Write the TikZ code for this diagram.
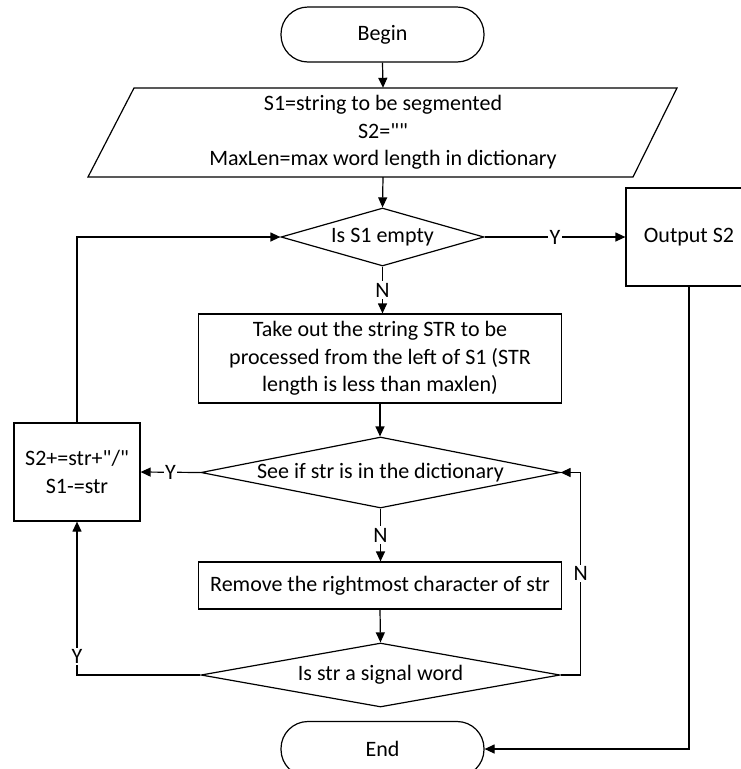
\documentclass[tikz,border=0pt]{standalone}
\usepackage{fontspec}
\setmainfont{Carlito}[Ligatures=TeXOff]
\usetikzlibrary{shapes.geometric,arrows.meta,calc}

\begin{document}
\begin{tikzpicture}[x=1pt,y=-1pt,
  every node/.style={font=\fontsize{22}{27.5}\selectfont},
  line/.style={line width=1.2pt},
  arr/.style={line, -{Triangle[length=10pt,width=9pt]}},
  term/.style={draw, line width=1.2pt, rounded corners=27pt, minimum width=203pt, minimum height=55pt, inner sep=0pt},
  procbox/.style={draw, line width=1.2pt, align=center, inner sep=0pt},
  decision/.style={draw, line width=1.2pt, diamond, inner sep=0pt},
  lbl/.style={fill=white, inner sep=1.5pt}
]
\useasboundingbox (0,0) rectangle (741,769);
\clip (0,0) rectangle (741,769);
\fill[white] (0,0) rectangle (741,769);

% terminators
\node[term] (begin) at (382.5,34.5) {Begin};
\node[term] (end) at (382.5,749) {End};

% input parallelogram
\node[align=center, minimum height=89pt, minimum width=100pt, inner sep=0pt] (init) at (383,132.5)
  {S1=string to be segmented\\S2=""\\MaxLen=max word length in dictionary};
\draw[line, line join=miter] (134,88) -- (677,88) -- (633,177) -- (88,177) -- cycle;

% decisions
\node[decision, aspect=3.5, minimum width=203pt, minimum height=58pt] (empty) at (382.5,237) {Is S1 empty};
\node[decision, aspect=5.06, minimum width=359pt, minimum height=71pt] (indict) at (380.5,472.5) {See if str is in the dictionary};
\node[decision, aspect=5.6, minimum width=359pt, minimum height=64pt] (signal) at (380.5,675) {Is str a signal word};

% processes
\node[procbox, minimum width=126pt, minimum height=98pt] (output) at (689,237) {Output S2};
\node[procbox, minimum width=362.5pt, minimum height=89pt] (take) at (380,358.5)
  {Take out the string STR to be\\processed from the left of S1 (STR\\length is less than maxlen)};
\node[procbox, minimum width=126pt, minimum height=98pt] (append) at (77,472)
  {S2+=str+"/"\\S1-=str};
\node[procbox, minimum width=362.5pt, minimum height=47pt] (remove) at (380,585.5)
  {Remove the rightmost character of str};

% connectors
\draw[arr] (begin.south) -- (init.north);
\draw[arr] (init.south) -- (empty.north);
\draw[arr] (empty.east) -- node[lbl] {Y} (output.west);
\draw[arr] (empty.south) -- node[lbl] {N} (empty.south |- take.north);
\draw[arr] (take.south) -- (take.south |- indict.north);
\draw[arr] (indict.west) -- node[lbl] {Y} (append.east);
\draw[arr] (indict.south) -- node[lbl] {N} (indict.south |- remove.north);
\draw[arr] (remove.south) -- (signal.north);
\draw[arr] (signal.east) -- ++(20,0) |- node[lbl, pos=0.25] {N} (indict.east);
\draw[arr] (signal.west) -| node[lbl, pos=0.56] {Y} (append.south);
\draw[arr] (append.north) |- (empty.west);
\draw[arr] (output.south) |- (end.east);
\end{tikzpicture}
\end{document}
